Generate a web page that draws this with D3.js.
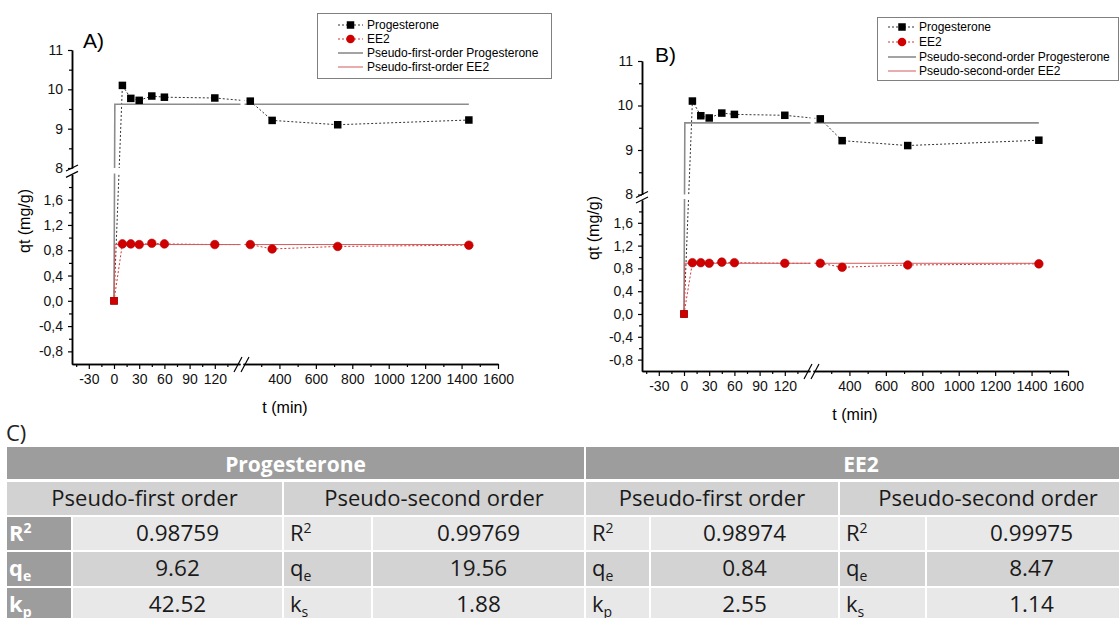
<!DOCTYPE html>
<html>
<head>
<meta charset="utf-8">
<script src="https://cdn.jsdelivr.net/npm/d3@7"></script>
<style>
  body { margin: 0; background: #fff; }
  svg { display: block; }
</style>
</head>
<body>
<svg id="fig" width="1119" height="618"></svg>
<script>
// ---- Kinetic data: adsorbed amount qt (mg/g) vs contact time t (min) ----
const times = [0, 10, 20, 30, 45, 60, 120, 240, 360, 720, 1440];
const progesterone = [0, 10.1, 9.77, 9.72, 9.83, 9.8, 9.78, 9.7, 9.21, 9.1, 9.22];
const ee2 = [0, 0.9, 0.9, 0.89, 0.91, 0.9, 0.89, 0.89, 0.82, 0.86, 0.88];

// Fitted model curves
const fitTimes = [0, 1, 1440];
const fitFirstProg = [0, 9.62, 9.62];
const fitFirstEE2 = [0, 0.89, 0.89];
const fitSecondProg = [0, 9.61, 9.61];
const fitSecondEE2 = [0, 0.89, 0.89];

// Axis ticks (broken axes)
const xTicksShort = [-30, 0, 30, 60, 90, 120];
const xMinorShort = [-45, -15, 15, 45, 75, 105, 135];
const xTicksLong = [400, 600, 800, 1000, 1200, 1400, 1600];
const xMinorLong = [300, 500, 700, 900, 1100, 1300, 1500];
const yTicksLow = [-0.8, -0.4, 0, 0.4, 0.8, 1.2, 1.6];
const yMinorLow = [-0.6, -0.2, 0.2, 0.6, 1.0, 1.4, 1.8];
const yTicksHigh = [8, 9, 10, 11];
const yMinorHigh = [8.5, 9.5, 10.5];

// Kinetic parameters table
const compounds = ["Progesterone", "EE2"];
const modelNames = ["Pseudo-first order", "Pseudo-second order"];
const paramsFirst = [{ base: "R", sup: "2" }, { base: "q", sub: "e" }, { base: "k", sub: "p" }];
const paramsSecond = [{ base: "R", sup: "2" }, { base: "q", sub: "e" }, { base: "k", sub: "s" }];
const progFirstValues = ["0.98759", "9.62", "42.52"];
const progSecondValues = ["0.99769", "19.56", "1.88"];
const ee2FirstValues = ["0.98974", "0.84", "2.55"];
const ee2SecondValues = ["0.99975", "8.47", "1.14"];

const svg = d3.select("#fig");
const defs = svg.append("defs");
const CHART_FONT = "'Liberation Sans', Arial, sans-serif";
const TABLE_FONT = "'Open Sans', 'Noto Sans', sans-serif";
const RED = "#d00000";

const panels = [
  {
    ox: 0, yRange: [364, 174.4, 168, 50], tag: "A)", tagPos: [83, 48],
    model: "Pseudo-first-order", fitProg: fitFirstProg, fitEE2: fitFirstEE2,
    legend: { x: 317, y: 13, w: 234, h: 65, rows: [25, 39, 53, 67], s0: 338, s1: 363, tx: 367 },
    yLabel: [30, 221]
  },
  {
    ox: 570, yRange: [371, 200, 194.5, 61], tag: "B)", tagPos: [655, 62],
    model: "Pseudo-second-order", fitProg: fitSecondProg, fitEE2: fitSecondEE2,
    legend: { x: 877, y: 17, w: 241, h: 63, rows: [27, 42, 57, 71], s0: 888, s1: 916, tx: 919 },
    yLabel: [599, 228]
  }
];

function styleAxis(sel) {
  sel.attr("font-family", CHART_FONT).attr("font-size", 14);
  sel.select(".domain").attr("stroke", "#000").attr("stroke-width", 1.5);
  sel.selectAll(".tick line").attr("stroke", "#000").attr("stroke-width", 1.2);
  sel.selectAll(".tick text").attr("fill", "#111");
}

function square(sel, cx, cy, size, fill) {
  sel.append("rect").attr("x", cx - size / 2).attr("y", cy - size / 2)
    .attr("width", size).attr("height", size).attr("fill", fill);
}

function drawPanel(p, idx) {
  const g = svg.append("g");
  // Piecewise scales: two x segments and two y segments joined by a narrow break
  const x = d3.scaleLinear().domain([-50, 150, 200, 1600]).range([72, 240, 243, 498].map(v => v + p.ox));
  const y = d3.scaleLinear().domain([-1, 2, 8, 11]).range(p.yRange);
  const xSegs = [[-50, 150], [200, 1600]].map(d => d3.scaleLinear().domain(d).range(d.map(x)));
  const ySegs = [[-1, 2], [8, 11]].map(d => d3.scaleLinear().domain(d).range(d.map(y)));
  const axisY = y(-1), axisX = x(-50);

  // Clip region that leaves the break gaps empty
  const cid = "plotclip" + idx;
  const cp = defs.append("clipPath").attr("id", cid);
  const xb = [[p.ox, x(150) + 0.5], [x(200) + 1.5, p.ox + 560]];
  const yb = [[0, y(8)], [y(2) - 1, axisY]];
  xb.forEach(a => yb.forEach(b => cp.append("rect")
    .attr("x", a[0]).attr("y", b[0]).attr("width", a[1] - a[0]).attr("height", b[1] - b[0])));

  // Axes
  xSegs.forEach((s, i) => {
    g.append("g").attr("transform", `translate(0,${axisY})`)
      .call(d3.axisBottom(s).tickValues(i ? xMinorLong : xMinorShort).tickSize(3).tickSizeOuter(0).tickFormat(""))
      .call(styleAxis);
    g.append("g").attr("transform", `translate(0,${axisY})`)
      .call(d3.axisBottom(s).tickValues(i ? xTicksLong : xTicksShort).tickSize(5).tickSizeOuter(0)
        .tickPadding(5).tickFormat(d => String(d)))
      .call(styleAxis);
  });
  ySegs.forEach((s, i) => {
    g.append("g").attr("transform", `translate(${axisX},0)`)
      .call(d3.axisLeft(s).tickValues(i ? yMinorHigh : yMinorLow).tickSize(3).tickSizeOuter(0).tickFormat(""))
      .call(styleAxis);
    g.append("g").attr("transform", `translate(${axisX},0)`)
      .call(d3.axisLeft(s).tickValues(i ? yTicksHigh : yTicksLow).tickSize(4).tickSizeOuter(0).tickPadding(5)
        .tickFormat(d => i ? String(d) : d.toFixed(1).replace(".", ",")))
      .call(styleAxis);
  });

  // Break marks
  const brk = g.append("g").attr("stroke", "#000").attr("stroke-width", 1.2);
  [y(8), y(2)].forEach(yy => brk.append("line")
    .attr("x1", axisX - 6).attr("y1", yy + 3).attr("x2", axisX + 6).attr("y2", yy - 3));
  const xm = (x(150) + x(200)) / 2;
  [xm - 3.5, xm + 3.5].forEach(xx => brk.append("line")
    .attr("x1", xx - 4).attr("y1", axisY + 8).attr("x2", xx + 4).attr("y2", axisY - 7));

  // Lines (clipped at the breaks)
  const lineGen = d3.line().x(d => x(d[0])).y(d => y(d[1]));
  const lines = g.append("g").attr("clip-path", `url(#${cid})`).attr("fill", "none");
  lines.append("path").datum(times.map((t, i) => [t, progesterone[i]])).attr("d", lineGen)
    .attr("stroke", "#333").attr("stroke-width", 1).attr("stroke-dasharray", "2,2");
  lines.append("path").datum(times.map((t, i) => [t, ee2[i]])).attr("d", lineGen)
    .attr("stroke", "#c83a3a").attr("stroke-width", 1).attr("stroke-dasharray", "2,2");
  lines.append("path").datum(fitTimes.map((t, i) => [t, p.fitProg[i]])).attr("d", lineGen)
    .attr("stroke", "#8c8c8c").attr("stroke-width", 1.6);
  lines.append("path").datum(fitTimes.map((t, i) => [t, p.fitEE2[i]])).attr("d", lineGen)
    .attr("stroke", "#d45a5a").attr("stroke-width", 1);

  // Markers
  const mk = g.append("g");
  times.forEach((t, i) => square(mk, x(t), y(progesterone[i]), 7.5, "#000"));
  times.forEach((t, i) => {
    if (t === 0) square(mk, x(t), y(ee2[i]), 7.5, RED);
    else mk.append("circle").attr("cx", x(t)).attr("cy", y(ee2[i])).attr("r", 4.3)
      .attr("fill", RED).attr("stroke", "#b00000").attr("stroke-width", 0.6);
  });

  // Titles
  g.append("text").attr("x", p.tagPos[0]).attr("y", p.tagPos[1]).attr("font-family", CHART_FONT)
    .attr("font-size", 21).attr("fill", "#000").text(p.tag);
  g.append("text").attr("transform", `translate(${p.yLabel[0]},${p.yLabel[1]}) rotate(-90)`)
    .attr("text-anchor", "middle").attr("font-family", CHART_FONT).attr("font-size", 16)
    .attr("fill", "#000").text("qt (mg/g)");
  g.append("text").attr("x", (x(-50) + x(1600)) / 2).attr("y", axisY + 49).attr("text-anchor", "middle")
    .attr("font-family", CHART_FONT).attr("font-size", 16).attr("fill", "#000").text("t (min)");

  // Legend
  const L = p.legend;
  const lg = g.append("g").attr("font-family", CHART_FONT).attr("font-size", 12);
  lg.append("rect").attr("x", L.x + 0.5).attr("y", L.y + 0.5).attr("width", L.w).attr("height", L.h)
    .attr("fill", "#fff").attr("stroke", "#808080").attr("stroke-width", 1);
  const entries = [
    { label: "Progesterone", stroke: "#333", dash: "2,2", w: 1, marker: "square" },
    { label: "EE2", stroke: "#c83a3a", dash: "2,2", w: 1, marker: "circle" },
    { label: p.model + " Progesterone", stroke: "#8c8c8c", dash: null, w: 1.6 },
    { label: p.model + " EE2", stroke: "#d45a5a", dash: null, w: 1 }
  ];
  entries.forEach((e, i) => {
    const cy = L.rows[i], cx = (L.s0 + L.s1) / 2;
    lg.append("line").attr("x1", L.s0).attr("x2", L.s1).attr("y1", cy).attr("y2", cy)
      .attr("stroke", e.stroke).attr("stroke-width", e.w).attr("stroke-dasharray", e.dash);
    if (e.marker === "square") square(lg, cx, cy, 7.5, "#000");
    if (e.marker === "circle") lg.append("circle").attr("cx", cx).attr("cy", cy).attr("r", 4.3).attr("fill", RED);
    lg.append("text").attr("x", L.tx).attr("y", cy + 4.3).attr("fill", "#000").text(e.label);
  });
}

panels.forEach(drawPanel);

// ---- Table C) ----
const tg = svg.append("g").attr("font-family", TABLE_FONT);
tg.append("text").attr("x", 6).attr("y", 441).attr("font-size", 22).attr("fill", "#222").text("C)");

const HEADER_FILL = "#9d9d9d";
const rowTops = [447, 482, 517, 552, 588];
const rowHeights = [32, 33, 33, 34, 34];
const paramFills = ["#e8e8e8", "#d3d3d3", "#e8e8e8"];
const groupEdges = [[6, 585], [585, 1137]];
const blocks = [
  { x0: 6, x1: 283, lx: 72, params: paramsFirst, values: progFirstValues, dark: true },
  { x0: 283, x1: 585, lx: 372, params: paramsSecond, values: progSecondValues, dark: false },
  { x0: 585, x1: 839, lx: 650, params: paramsFirst, values: ee2FirstValues, dark: false },
  { x0: 839, x1: 1137, lx: 926, params: paramsSecond, values: ee2SecondValues, dark: false }
];

function cell(x0, x1, r, fill) {
  tg.append("rect").attr("x", x0 + 1).attr("y", rowTops[r]).attr("width", x1 - x0 - 2)
    .attr("height", rowHeights[r]).attr("fill", fill);
}

function paramLabel(p, x, yb, color, bold) {
  const t = tg.append("text").attr("x", x).attr("y", yb).attr("font-size", 22).attr("fill", color)
    .attr("font-weight", bold ? 700 : 400);
  t.append("tspan").text(p.base);
  if (p.sup) t.append("tspan").attr("dy", -8).attr("font-size", 14).text(p.sup);
  if (p.sub) t.append("tspan").attr("dy", 5).attr("font-size", 14).text(p.sub);
}

compounds.forEach((c, i) => {
  const [x0, x1] = groupEdges[i];
  cell(x0, x1, 0, HEADER_FILL);
  tg.append("text").attr("x", (x0 + x1) / 2).attr("y", rowTops[0] + 25).attr("text-anchor", "middle")
    .attr("font-size", 21).attr("font-weight", 700).attr("fill", "#fff").text(c);
});

blocks.forEach((b, bi) => {
  cell(b.x0, b.x1, 1, "#d2d2d2");
  tg.append("text").attr("x", (b.x0 + b.x1) / 2).attr("y", rowTops[1] + 24).attr("text-anchor", "middle")
    .attr("font-size", 22).attr("fill", "#1a1a1a").text(modelNames[bi % 2]);
  b.params.forEach((p, k) => {
    const r = k + 2;
    cell(b.x0, b.lx, r, b.dark ? HEADER_FILL : paramFills[k]);
    cell(b.lx, b.x1, r, paramFills[k]);
    paramLabel(p, b.x0 + (b.dark ? 3 : 7), rowTops[r] + 24, b.dark ? "#fff" : "#1a1a1a", b.dark);
    tg.append("text").attr("x", (b.lx + b.x1) / 2).attr("y", rowTops[r] + 24).attr("text-anchor", "middle")
      .attr("font-size", 22.5).attr("fill", "#1a1a1a").text(b.values[k]);
  });
});
</script>
</body>
</html>
